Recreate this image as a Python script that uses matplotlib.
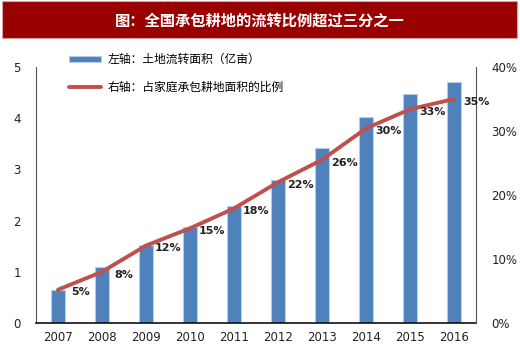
import matplotlib
matplotlib.use("Agg")
import matplotlib.pyplot as plt
import matplotlib.ticker as mticker
from matplotlib.patches import Rectangle

plt.rcParams["font.family"] = ["DejaVu Sans", "Noto Sans CJK SC"]

years = ["2007", "2008", "2009", "2010", "2011", "2012", "2013", "2014", "2015", "2016"]
area = [0.64, 1.10, 1.52, 1.87, 2.28, 2.79, 3.42, 4.03, 4.47, 4.71]  # 亿亩
share = [5.2, 8.0, 12.1, 14.8, 17.9, 22.0, 25.5, 30.4, 33.4, 35.0]  # %
share_labels = ["5%", "8%", "12%", "15%", "18%", "22%", "26%", "30%", "33%", "35%"]

title = "图：全国承包耕地的流转比例超过三分之一"
legend_bar = "左轴：土地流转面积（亿亩）"
legend_line = "右轴：占家庭承包耕地面积的比例"

BLUE = "#4F81BD"
RED = "#C0504D"
CJK = ["Noto Sans CJK SC", "DejaVu Sans"]

fig = plt.figure(figsize=(5.2, 3.64), dpi=100)

# title banner
fig.patches.append(Rectangle((2 / 520, 1 - 38 / 364), 515 / 520, 37 / 364,
                             transform=fig.transFigure, facecolor="#990000",
                             edgecolor="#d9a0a0", linewidth=0.8))
fig.text(0.5, 1 - 21 / 364, title, color="white", fontsize=11, fontweight="bold",
         ha="center", va="center", family=CJK)

ax = fig.add_axes([36 / 520, 1 - 323 / 364, 440 / 520, 256 / 364])
x = range(len(years))
bars = ax.bar(x, area, width=0.31, color=BLUE, edgecolor="#b8cce4", linewidth=0.8)
ax.set_xlim(-0.5, 9.5)
ax.set_ylim(0, 5)
ax.set_xticks(list(x))
ax.set_xticklabels(years)
ax.yaxis.set_major_locator(mticker.MultipleLocator(1))
ax.tick_params(axis="both", length=0, labelsize=8.5, colors="#222222")
ax.tick_params(axis="y", pad=11)
ax.tick_params(axis="x", pad=6)
ax.spines["top"].set_visible(False)
ax.spines["right"].set_visible(False)
ax.spines["left"].set_color("#555555")
ax.spines["bottom"].set_color("#111111")
ax.spines["bottom"].set_linewidth(1.2)

ax2 = ax.twinx()
ax2.set_ylim(0, 40)
ax2.yaxis.set_major_locator(mticker.MultipleLocator(10))
ax2.yaxis.set_major_formatter(mticker.StrMethodFormatter("{x:.0f}%"))
ax2.tick_params(axis="y", length=0, labelsize=8.5, colors="#222222", pad=11)
ax2.spines["top"].set_visible(False)
ax2.spines["left"].set_visible(False)
ax2.spines["bottom"].set_visible(False)
ax2.spines["right"].set_color("#555555")
line, = ax2.plot(list(x), share, color=RED, linewidth=2.8, solid_joinstyle="round",
                 solid_capstyle="round")
for xi, yi, lbl in zip(x, share, share_labels):
    ax2.annotate(lbl, (xi, yi), xytext=(16, -2), textcoords="offset points",
                 ha="center", va="center", fontsize=8, fontweight="bold",
                 color="#222222")

leg = ax.legend([bars, line], [legend_bar, legend_line], loc="upper left",
                bbox_to_anchor=(0.05, 1.095), frameon=False, handlelength=2.7,
                handleheight=0.5, labelspacing=1.25, handletextpad=0.6,
                prop={"family": CJK, "size": 8.5})

fig.savefig("out.png", dpi=100)
